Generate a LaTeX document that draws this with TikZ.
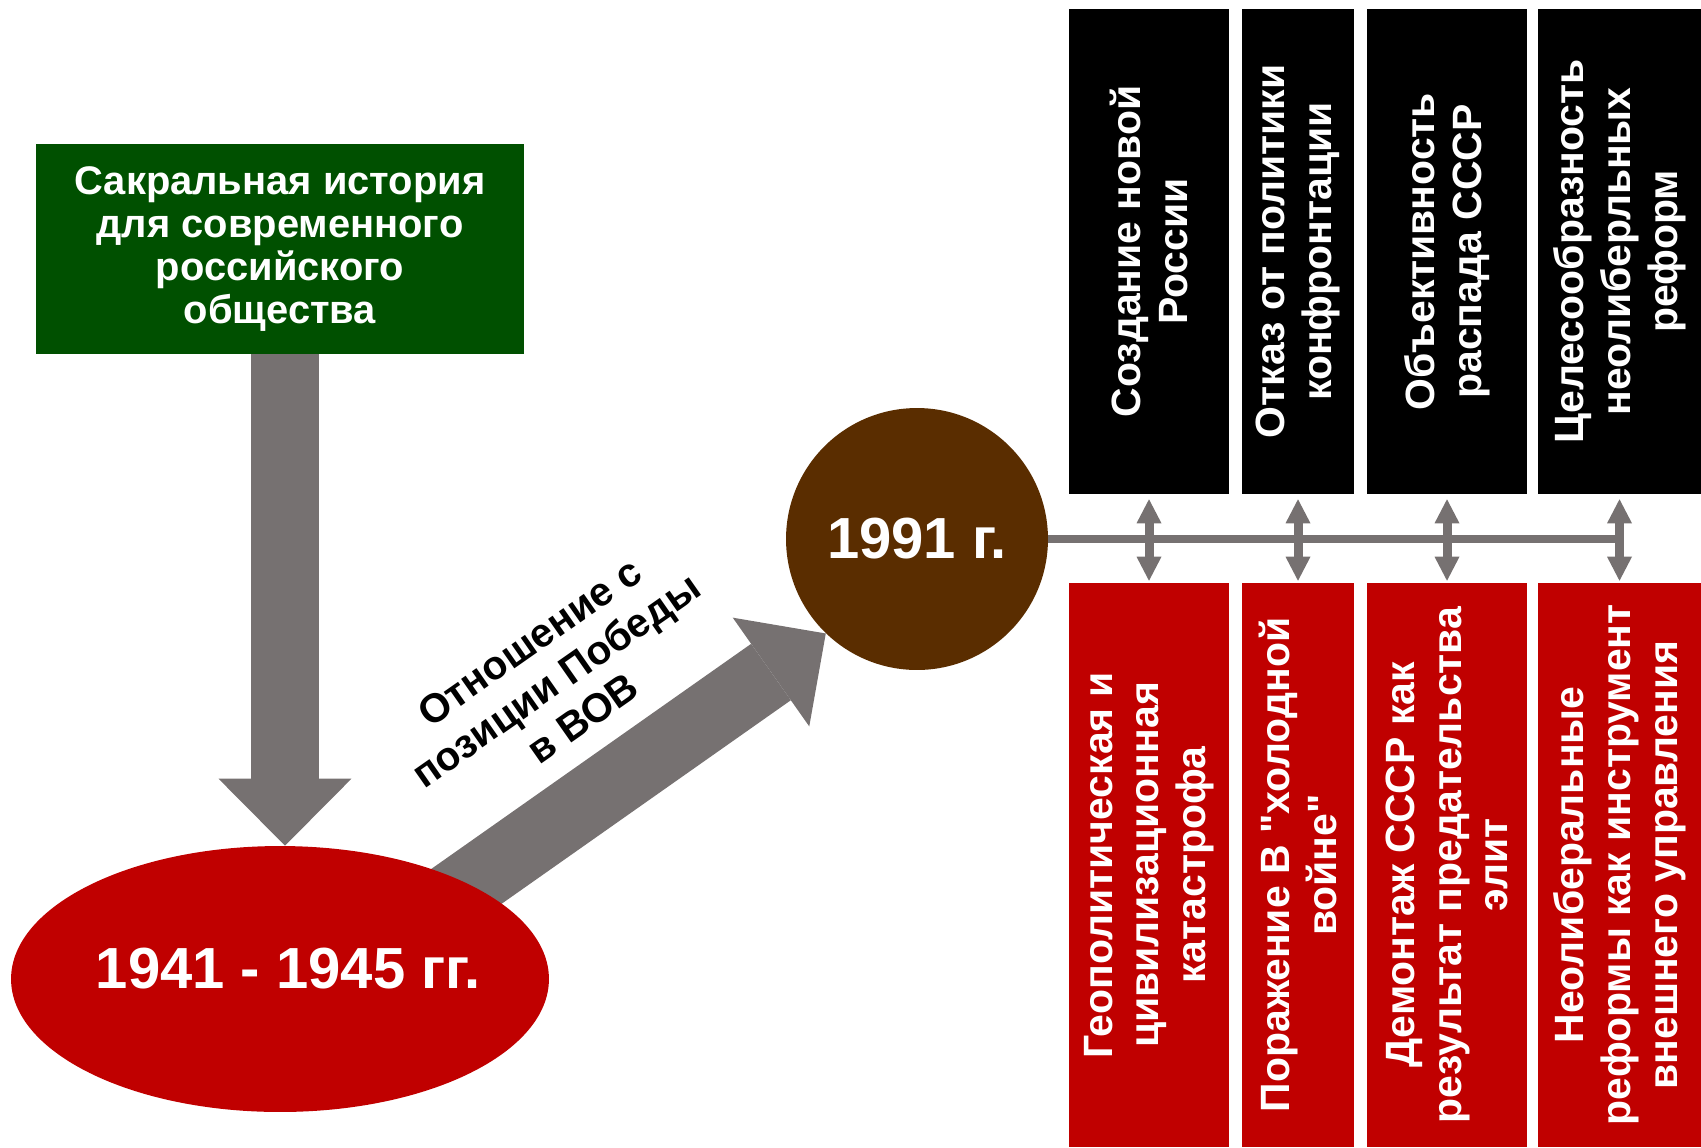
\documentclass[tikz,border=0pt]{standalone}
\usepackage{fontspec}
\setmainfont{Liberation Sans}[Ligatures=TeXOff]
\usetikzlibrary{arrows.meta,shapes.geometric}
\definecolor{sacralgreen}{RGB}{0,80,0}
\definecolor{warred}{RGB}{192,0,0}
\definecolor{yearbrown}{RGB}{90,45,0}
\definecolor{arrowgray}{RGB}{118,113,113}

\begin{document}
\begin{tikzpicture}
		[x=0.02cm, y=-0.02cm,
		bigarrow/.style={arrowgray, line width=1.38cm,
			-{Triangle[width=2.66cm, length=1.34cm, line width=0pt]}},
		linkarrow/.style={arrowgray, line width=0.18cm,
			{Triangle[width=0.5cm, length=0.48cm, line width=0pt]}-{Triangle[width=0.5cm, length=0.48cm, line width=0pt]},
			shorten <=0.1cm, shorten >=0.04cm},
		txt/.style={font=\fontsize{23.3}{26.6}\selectfont\bfseries,
			align=center, inner sep=0pt},
		topbox/.style={txt, rotate=90, fill=black, text=white,
			minimum width=9.7cm},
		botbox/.style={txt, rotate=90, fill=warred, text=white,
			minimum width=11.28cm}]
		\useasboundingbox (0,0) rectangle (1701,1147);
		\node[txt, fill=sacralgreen, text=white, minimum width=9.78cm,
			minimum height=4.2cm, font=\fontsize{22.7}{24.4}\selectfont\bfseries]
			(sacral) at (280,249) {Сакральная история\\для современного\\российского\\общества};
		\node[circle, fill=yearbrown, text=white, minimum size=5.24cm, inner sep=0pt,
			font=\fontsize{33}{33}\selectfont\bfseries] (year) at (917,539) {1991 г.};
		\coordinate (tail) at (430,912);
		\draw[bigarrow] (tail) -- (year.226);
		\node[ellipse, fill=warred, text=white, minimum width=10.76cm,
			minimum height=5.32cm, inner xsep=-1cm, inner ysep=0pt,
			font=\fontsize{33}{33}\selectfont\bfseries] (war) at (280,979)
			{\hspace*{0.32cm}\raisebox{0.45cm}{1941 - 1945 гг.}};
		\draw[bigarrow] ([xshift=0.1cm]sacral.south) -- ([xshift=0.1cm]war.north);
		\node[txt, rotate=35, font=\fontsize{23}{26.5}\selectfont\bfseries]
			(relation) at (556,680) {Отношение с\\позиции Победы\\в ВОВ};
		\node[topbox, minimum height=3.2cm] (t1) at (1149,251.5) {Создание новой\\России};
		\node[topbox, minimum height=2.24cm] (t2) at (1298,251.5) {Отказ от политики\\конфронтации};
		\node[topbox, minimum height=3.2cm] (t3) at (1447,251.5) {Объективность\\распада СССР};
		\node[topbox, minimum height=3.26cm] (t4) at (1619.5,251.5) {Целесообразность\\неолиберльных\\реформ};
		\node[botbox, minimum height=3.2cm] (b1) at (1149,865) {Геополитическая и\\цивилизационная\\катастрофа};
		\node[botbox, minimum height=2.24cm] (b2) at (1298,865) {Поражение В "холодной\\войне"};
		\node[botbox, minimum height=3.2cm] (b3) at (1447,865) {Демонтаж СССР как\\результат предательства\\элит};
		\node[botbox, minimum height=3.26cm] (b4) at (1619.5,865) {Неолиберальные\\реформы как инструмент\\внешнего управления};
		\draw[arrowgray, line width=0.17cm] (year.east) -- (year.east -| t4.center);
		\foreach \i in {1,...,4}
			\draw[linkarrow] (t\i.west) -- (b\i.east);
	\end{tikzpicture}
\end{document}
